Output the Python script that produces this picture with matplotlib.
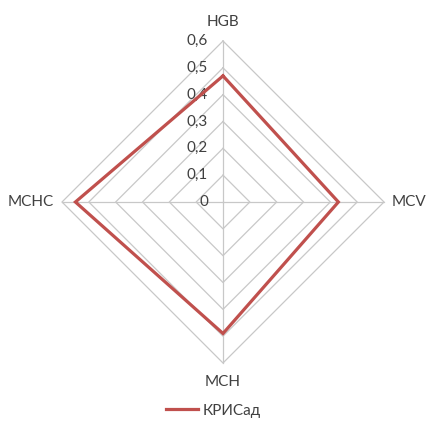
import numpy as np
import matplotlib.pyplot as plt

categories = ['HGB', 'MCV', 'MCH', 'MCHC']
values = [0.47, 0.43, 0.49, 0.55]
levels = [0.1, 0.2, 0.3, 0.4, 0.5, 0.6]
tick_labels = ['0', '0,1', '0,2', '0,3', '0,4', '0,5', '0,6']
series_name = 'КРИСад'

plt.rcParams['font.family'] = ['Lato', 'DejaVu Sans']

# axis directions: top, right, bottom, left
angles = np.deg2rad([90, 0, -90, 180])
ux, uy = np.cos(angles), np.sin(angles)

fig = plt.figure(figsize=(4.26, 4.22), dpi=100)
ax = fig.add_axes([0, 0, 1, 1])
scale = 161 / 0.6
ax.set_xlim(-223 / scale, (426 - 223) / scale)
ax.set_ylim(-220 / scale, 202 / scale)
ax.axis('off')

grid_c = '#c8c8c8'
for lv in levels:
    ax.plot(np.append(ux, ux[0]) * lv, np.append(uy, uy[0]) * lv,
            color=grid_c, lw=0.9, zorder=1)
rmax = levels[-1]
for x, y in zip(ux, uy):
    ax.plot([0, x * rmax], [0, y * rmax], color=grid_c, lw=0.9, zorder=1)

v = np.array(values)
ax.plot(np.append(ux * v, ux[0] * v[0]), np.append(uy * v, uy[0] * v[0]),
        color='#c0504d', lw=2.3, zorder=3, label=series_name,
        solid_joinstyle='miter')

# radial tick labels along the top axis
for lv, lab in zip([0] + levels, tick_labels):
    ax.text(-0.055, lv, lab, ha='right', va='center', fontsize=11,
            color='#404040', zorder=2)

# category labels
off = 0.07
ax.text(0, rmax + off, categories[0], ha='center', va='center', fontsize=11, color='#404040')
ax.text(rmax + 0.03, 0, categories[1], ha='left', va='center', fontsize=11, color='#404040')
ax.text(0, -rmax - off, categories[2], ha='center', va='center', fontsize=11, color='#404040')
ax.text(-rmax - 0.03, 0, categories[3], ha='right', va='center', fontsize=11, color='#404040')

ax.legend(loc='lower center', bbox_to_anchor=(0.5, -0.022), frameon=False,
          fontsize=11, handlelength=2.1, handletextpad=0.3, labelcolor='#404040')

fig.savefig('out.png', dpi=100)
